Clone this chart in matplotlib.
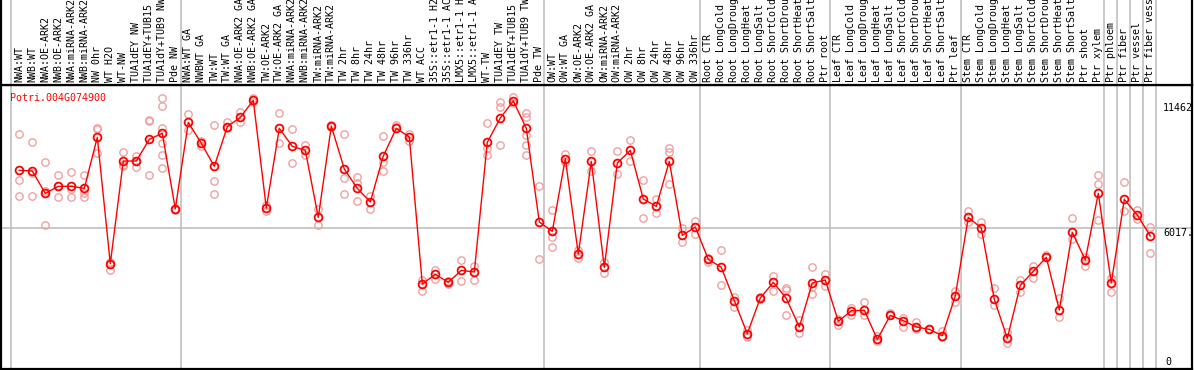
import matplotlib
matplotlib.use("Agg")
import matplotlib.pyplot as plt
import matplotlib.transforms as mtransforms

categories = [
    "NWA:WT", "NWB:WT", "NWA:OE-ARK2", "NWB:OE-ARK2", "NWA:miRNA-ARK2", "NWB:miRNA-ARK2",
    "NW 0hr", "WT H2O", "WT-NW", "TUA1dEY NW", "TUA1dEY+TUB15 NW", "TUA1dY+TUB9 NW", "Pde NW",
    "NWA:WT GA", "NWBWT GA", "TW:WT", "TW:WT GA", "NWA:OE-ARK2 GA", "NWB:OE-ARK2 GA",
    "TW:OE-ARK2", "TW:OE-ARK2 GA", "NWA:miRNA-ARK2 GA", "NWB:miRNA-ARK2 GA", "TW:miRNA-ARK2",
    "TW:miRNA-ARK2 GA", "TW 2hr", "TW 8hr", "TW 24hr", "TW 48hr", "TW 96hr", "TW 336hr",
    "WT ACC", "35S::etr1-1 H2O", "35S::etr1-1 ACC", "LMX5::etr1-1 H2O", "LMX5::etr1-1 ACC",
    "WT-TW", "TUA1dEY TW", "TUA1dEY+TUB15 TW", "TUA1dY+TUB9 TW", "Pde TW",
    "OW:WT", "OW:WT GA", "OW:OE-ARK2", "OW:OE-ARK2 GA", "OW:miRNA-ARK2", "OW:miRNA-ARK2 GA",
    "OW 2hr", "OW 8hr", "OW 24hr", "OW 48hr", "OW 96hr", "OW 336hr",
    "Root CTR", "Root LongCold", "Root LongDrought", "Root LongHeat", "Root LongSalt",
    "Root ShortCold", "Root ShortDrought", "Root ShortHeat", "Root ShortSalt", "Ptr root",
    "Leaf CTR", "Leaf LongCold", "Leaf LongDrought", "Leaf LongHeat", "Leaf LongSalt",
    "Leaf ShortCold", "Leaf ShortDrought", "Leaf ShortHeat", "Leaf ShortSalt", "Ptr leaf",
    "Stem CTR", "Stem LongCold", "Stem LongDrought", "Stem LongHeat", "Stem LongSalt",
    "Stem ShortCold", "Stem ShortDrought", "Stem ShortHeat", "Stem ShortSalt", "Ptr shoot",
    "Ptr xylem", "Ptr phloem", "Ptr fiber", "Ptr vessel", "Ptr fiber vessel",
]

group_sizes = [13, 28, 12, 10, 10, 11, 1, 1, 1, 1]

mean_values = [
    8477, 8449, 7496, 7795, 7795, 7709, 9886, 4495, 8876, 8876, 9800, 10056, 6828,
    10526, 9630, 8648, 10341, 10739, 11462, 6870, 10270, 9502, 9331, 6472, 10369, 8534,
    7709, 7126, 9089, 10270, 9900, 3627, 4040, 3698, 4210, 4139, 9672, 10711, 11440,
    10270, 6273,
    5874, 8975, 4907, 8862, 4338, 8790, 9331, 7254, 6941, 8862, 5704, 6059,
    4680, 4338, 2916, 1508, 3030, 3698, 3015, 1792, 3670, 3798,
    2034, 2489, 2503, 1266, 2290, 2062, 1792, 1693, 1422, 3115,
    6472, 6017, 2973, 1309, 3570, 4168, 4765, 2518, 5832, 4651, 7496,
    3670, 7240, 6571, 5675,
]

replicates = [
    [10014, 8051, 7368], [9672, 8378, 7368], [8833, 7596, 6145], [8278, 7325, 7795],
    [8392, 7695, 7325], [8264, 7496, 7325], [10298, 10227, 9203], [4566, 4210, 4495],
    [9260, 8705, 8662], [9089, 8634, 8876], [10611, 10583, 8264],
    [11564, 11209, 10298, 9630, 9118, 8563], [6828, 6785],
    [10881, 10199], [9743, 9530], [10398, 8022, 7453], [10526, 10270], [10952, 10540],
    [11564, 11393], [6998, 6728], [10924, 9630], [10227, 8790], [9558, 9118], [6828, 6145],
    [10398, 10341], [10014, 8136, 7453], [8179, 7923, 7155], [7382, 6813],
    [9943, 8847, 8435], [10412, 10341], [10014, 9729], [3798, 3314], [4210, 3840],
    [3769, 3613], [4651, 3741], [4409, 3784], [10497, 9416, 9132], [11379, 11194, 9544],
    [11593, 11337], [10910, 10768, 9985, 9558, 9118], [7795, 4680],
    [6785, 5647, 5192], [9160, 8847], [5078, 4751], [9302, 8449], [4580, 4111],
    [9302, 8321], [9772, 8862], [8065, 6443], [7268, 6643], [9431, 9274, 7894],
    [6017, 5434], [6315, 5761],
    [4722, 4552], [5064, 3570], [3072, 2646], [1664, 1351], [3087, 2973], [3968, 3314],
    [3456, 3371, 2290], [2091, 1522], [4338, 3513, 3200], [4054, 3528],
    [2119, 1863], [2617, 2290], [2859, 2290], [1408, 1181], [2404, 2290], [2190, 1792],
    [2020, 1693], [1693, 1693], [1636, 1351], [3328, 2845],
    [6742, 6259], [6287, 5761], [3442, 2717], [1579, 1124], [3798, 3300], [4395, 3869],
    [4850, 4765], [3015, 2233], [6429, 5562], [4765, 4409], [8264, 7908, 6372],
    [3869, 3272], [7965, 6742], [6785, 6387], [6045, 4936],
]

gene_name = "Potri.004G074900"
axis_labels = ["11462", "6017.0", "0"]
axis_label_values = [11462, 6017, 0]

W, H = 1194, 370
fig = plt.figure(figsize=(W / 100, H / 100), dpi=100)
fig.patch.set_facecolor("white")

x_left_px, x_right_px = 1, 1192
y_line_px, y_bottom_px = 85, 369
x0_px, step_px = 19.3, 13.0
xmin = (x_left_px - x0_px) / step_px
xmax = (x_right_px - x0_px) / step_px

ax = fig.add_axes([x_left_px / W, (H - y_bottom_px) / H,
                   (x_right_px - x_left_px) / W, (y_bottom_px - y_line_px) / H])
hax = fig.add_axes([x_left_px / W, (H - y_line_px) / H,
                    (x_right_px - x_left_px) / W, (y_line_px + 5) / H])

ymax = 6017 * (y_bottom_px - y_line_px) / 141.0
ax.set_xlim(xmin, xmax)
ax.set_ylim(0, ymax)
hax.set_xlim(xmin, xmax)
hax.set_ylim(0, 1)

for a in (ax, hax):
    a.set_xticks([])
    a.set_yticks([])
    for s in a.spines.values():
        s.set_linewidth(1.6)
        s.set_color("black")
hax.spines["top"].set_visible(False)

# separators
seps = [-0.65]
idx = -1
for g in group_sizes:
    idx += g
    seps.append(idx + 0.4)
for s in seps:
    ax.axvline(s, color="#c0c0c0", lw=1.2, zorder=0)
    hax.axvline(s, color="#c0c0c0", lw=1.2, zorder=0)

ax.axhline(6017, color="#c0c0c0", lw=1.2, zorder=0)

mono = "DejaVu Sans Mono"
fs = 7.2

# replicates
rx, ry = [], []
for i, reps in enumerate(replicates):
    for v in reps:
        rx.append(i)
        ry.append(v)
ax.plot(rx, ry, linestyle="none", marker="o", markersize=5.3, markerfacecolor="none",
        markeredgecolor="#f0a0a0", markeredgewidth=1.0, zorder=2)

xs = list(range(len(mean_values)))
ax.plot(xs, mean_values, color="#ff0000", lw=1.0, zorder=3)
ax.plot(xs, mean_values, linestyle="none", marker="o", markersize=5.6,
        markerfacecolor="none", markeredgecolor="#ff0000", markeredgewidth=1.3, zorder=4)

# category labels
tr = mtransforms.blended_transform_factory(hax.transData, hax.transAxes)
for i, lab in enumerate(categories):
    hax.text(i, 0.03 * 85 / 90, lab, rotation=90, ha="center", va="bottom",
             fontsize=fs, family=mono, color="black", transform=tr, clip_on=False)

ax.text(0.0076, 0.972, gene_name, transform=ax.transAxes, ha="left", va="top",
        fontsize=fs, family=mono, color="#ff0000")

trr = mtransforms.blended_transform_factory(ax.transAxes, ax.transData)
offsets = [-90, 0, 80]
for lab, v, off in zip(axis_labels, axis_label_values, offsets):
    va = "bottom" if v == 0 else "top"
    xpos = 0.9757 if v != 0 else 0.978
    ax.text(xpos, v + off, lab, transform=trr, ha="left", va=va, fontsize=fs,
            family=mono, color="black", clip_on=True)

fig.savefig("out.png", dpi=100, facecolor="white")
